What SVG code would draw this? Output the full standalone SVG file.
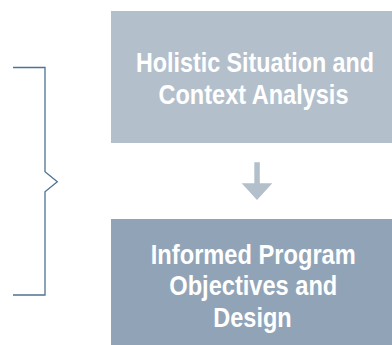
<svg xmlns="http://www.w3.org/2000/svg" width="392" height="345" viewBox="0 0 392 345">
<style>
.lbl{font-family:"Liberation Sans",Arial,sans-serif;font-weight:bold;font-size:28px;fill:#ffffff;text-anchor:middle}
</style>
<rect width="392" height="345" fill="#ffffff"/>
<g id="connectors">
<path d="M13,67.5 H45 V171.7 L57.3,181.7 L45,191.7 V295 H13" fill="none" stroke="#4e7393" stroke-width="1.3"/>
<path d="M254.3,162.3 H259.8 V183.3 H272.3 L257,200 L241.7,183.3 H254.3 Z" fill="#b4bfcc"/>
</g>
<g id="node-situation">
<rect x="111" y="11" width="281" height="132" fill="#b4bfcc"/>
<text class="lbl" x="255" y="72" textLength="238" lengthAdjust="spacingAndGlyphs">Holistic Situation and</text>
<text class="lbl" x="253.5" y="103.5" textLength="190" lengthAdjust="spacingAndGlyphs">Context Analysis</text>
</g>
<g id="node-objectives">
<rect x="111" y="219" width="281" height="126" fill="#91a4b7"/>
<text class="lbl" x="253.3" y="263.5" textLength="205" lengthAdjust="spacingAndGlyphs">Informed Program</text>
<text class="lbl" x="253.3" y="295" textLength="168" lengthAdjust="spacingAndGlyphs">Objectives and</text>
<text class="lbl" x="252.5" y="326.5" textLength="78.4" lengthAdjust="spacingAndGlyphs">Design</text>
</g>
</svg>
